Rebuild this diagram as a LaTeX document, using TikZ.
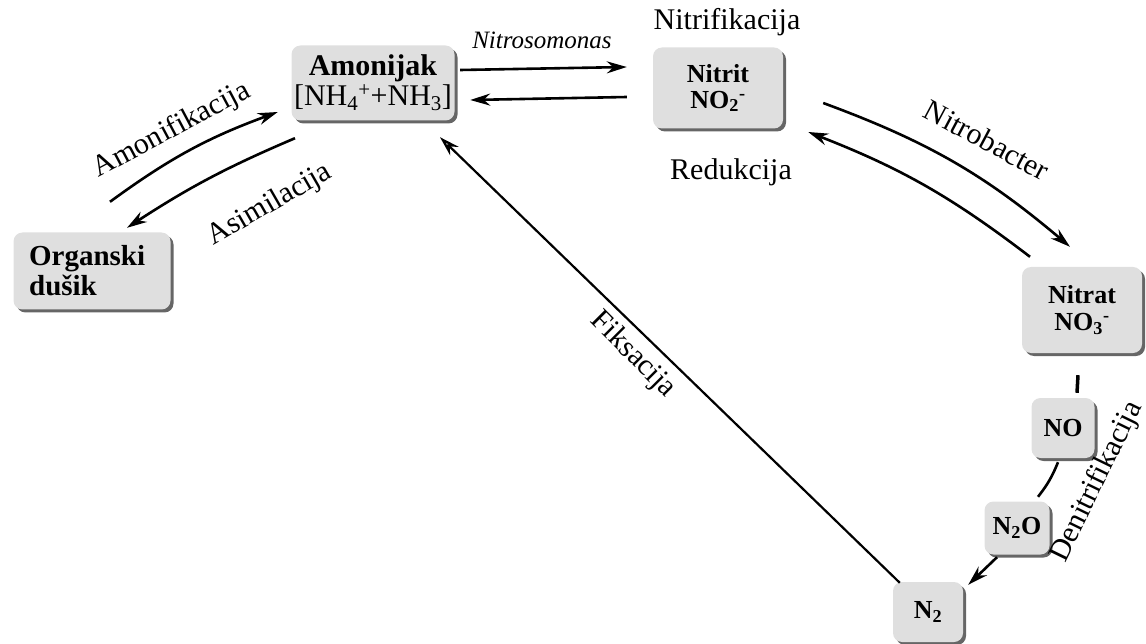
\documentclass[tikz,border=0pt]{standalone}
\usepackage{fontspec}
\setmainfont{Liberation Serif}
\usetikzlibrary{arrows.meta,shadows}
\newcommand\fsz[1]{\fontsize{#1}{#1}\selectfont}
\begin{document}
\begin{tikzpicture}[x=1pt,y=-1pt,
  chem/.style={rounded corners=9pt, fill=gray!25, draw=none, inner sep=0pt, align=center,
    drop shadow={shadow xshift=3pt, shadow yshift=-3pt, fill=gray!80!black, opacity=1}},
  lab/.style={font=\fsz{30}, inner sep=0pt},
  tip/.style={-{Stealth[length=20pt,width=12pt,fill=gray!55]}},
  conn/.style={line width=2.6pt, draw=black},
]
\useasboundingbox (0,0) rectangle (1146,644);

% nodes
\node[chem, minimum width=163, minimum height=75, font={\fontsize{30}{30}\selectfont}] (amo) at (373,83)
  {\textbf{Amonijak}\\{[}NH\textsubscript{4}\textsuperscript{+}+NH\textsubscript{3}{]}};
\node[chem, minimum width=130, minimum height=81, font={\fontsize{26}{26}\selectfont\bfseries}] (nit) at (718,88)
  {Nitrit\\NO\textsubscript{2}\textsuperscript{-}};
\node[chem, minimum width=157, minimum height=77, align=left, font={\fontsize{29}{30}\selectfont\bfseries}] (org) at (92,271)
  {Organski\\dušik\phantom{xxxx}};
\node[chem, minimum width=120, minimum height=86, font={\fontsize{26}{27}\selectfont\bfseries}] (nat) at (1082,310)
  {Nitrat\\NO\textsubscript{3}\textsuperscript{-}};
\node[chem, minimum width=63, minimum height=60, font={\fsz{26}\bfseries}] (no) at (1063,428) {NO};
\node[chem, minimum width=65, minimum height=53, font={\fsz{26}\bfseries}] (ntwoo) at (1017,528) {N\textsubscript{2}O};
\node[chem, minimum width=70, minimum height=60, font={\fsz{26}\bfseries}] (ntwo) at (928,612) {N\textsubscript{2}};

% labels
\node[lab, font=\fsz{25}\itshape] (lnitroso) at (542,40) {Nitrosomonas};
\node[lab] (lnitrif) at (727,22) {Nitrifikacija};
\node[lab] (lreduk) at (731,172) {Redukcija};
\node[lab, rotate=28] (lamon) at (172,130) {Amonifikacija};
\node[lab, rotate=30] (lasim) at (270,205) {Asimilacija};
\node[lab, rotate=-28] (lnitrob) at (987,140) {Nitrobacter};
\node[lab, rotate=-45] (lfiks) at (633,355) {Fiksacija};
\node[lab, rotate=64] (ldenit) at (1097,482) {Denitrifikacija};

% connectors
\draw[conn, tip] ([shift={(5.5,-13)}]amo.east) -- ([shift={(-26,-21)}]nit.west);
\draw[conn, tip] ([shift={(-26,9)}]nit.west) -- ([shift={(15.5,17)}]amo.east);
\draw[conn, tip] ([shift={(18,-30.5)}]org.north) to[bend left=8] ([shift={(-13.5,29)}]amo.west);
\draw[conn, tip] ([shift={(-78,17.5)}]amo.south) to[bend right=5] ([shift={(35,-4.5)}]org.north);
\draw[conn, tip] ([shift={(40,15)}]nit.east) to[bend left=10] ([shift={(-12,-20)}]nat.north);
\draw[conn, tip] ([shift={(-52,-10)}]nat.north) to[bend right=8] ([shift={(25,44)}]nit.east);
\draw[line width=3.5pt] ([shift={(-4,22)}]nat.south) -- ([shift={(14,-5)}]no.north);
\draw[conn] ([shift={(-5,4)}]no.south) to[bend left=8] ([shift={(21,-4.5)}]ntwoo.north);
\draw[conn, tip] ([shift={(-20,2.5)}]ntwoo.south) -- ([shift={(5,3)}]ntwo.north east);
\draw[line width=2.2pt, tip] ([shift={(7,1)}]ntwo.north west) -- ([shift={(67,16.5)}]amo.south);
\end{tikzpicture}
\end{document}
